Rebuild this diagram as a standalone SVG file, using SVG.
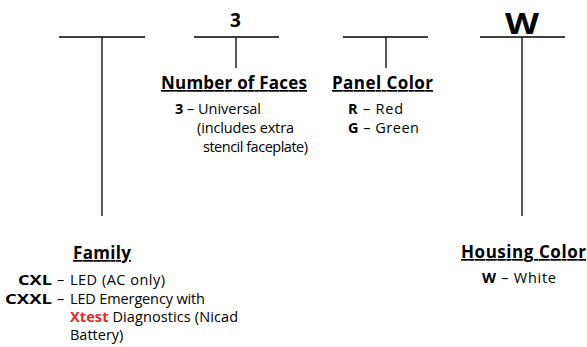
<svg xmlns="http://www.w3.org/2000/svg" width="587" height="347" viewBox="0 0 587 347">
<style>
.ln{stroke:#000;stroke-width:1.3;fill:none}
text{font-family:"Open Sans",Lato,"DejaVu Sans",sans-serif;fill:#000}
.h{font-size:17px;font-weight:bold;text-decoration:underline}
.t{font-size:14.5px}
.b{font-weight:bold}
.red{fill:#e8262b;font-weight:bold}
</style>
<rect width="587" height="347" fill="#fff"/>
<g id="connectors">
<line class="ln" x1="59" y1="37" x2="145" y2="37"/>
<line class="ln" x1="102" y1="37" x2="102" y2="216"/>
<line class="ln" x1="194" y1="37" x2="279" y2="37"/>
<line class="ln" x1="236" y1="37" x2="236" y2="68"/>
<line class="ln" x1="343" y1="37" x2="428" y2="37"/>
<line class="ln" x1="386" y1="37" x2="386" y2="68"/>
<line class="ln" x1="480" y1="37" x2="565" y2="37"/>
<line class="ln" x1="522" y1="37" x2="522" y2="216"/>
</g>
<g id="code-3"><text x="230" y="26.5" font-size="19" font-weight="bold" textLength="13">3</text></g>
<g id="code-W"><text x="505" y="33.5" font-size="28" font-weight="bold" textLength="34" lengthAdjust="spacingAndGlyphs">W</text></g>
<g id="faces">
<text class="h" x="161" y="89" textLength="146">Number of Faces</text>
<text class="t" x="175" y="114" textLength="86"><tspan class="b">3</tspan> – Universal</text>
<text class="t" x="197" y="133" textLength="97">(includes extra</text>
<text class="t" x="203" y="151.5" textLength="105">stencil faceplate)</text>
</g>
<g id="panel">
<text class="h" x="332" y="89" textLength="101">Panel Color</text>
<text class="t" x="348" y="114" textLength="55"><tspan class="b">R</tspan> – Red</text>
<text class="t" x="348" y="133" textLength="71"><tspan class="b">G</tspan> – Green</text>
</g>
<g id="family">
<text class="h" x="73" y="259" textLength="58">Family</text>
<text class="t b" x="18" y="285" textLength="34" lengthAdjust="spacingAndGlyphs">CXL</text>
<text class="t" x="57" y="285">– <tspan x="70" textLength="95">LED (AC only)</tspan></text>
<text class="t b" x="5" y="303.5" textLength="47" lengthAdjust="spacingAndGlyphs">CXXL</text>
<text class="t" x="57" y="303.5">– <tspan x="70" textLength="135">LED Emergency with</tspan></text>
<text class="t" x="70" y="322" textLength="168"><tspan class="red">Xtest</tspan> Diagnostics (Nicad</text>
<text class="t" x="70" y="340">Battery)</text>
</g>
<g id="housing">
<text class="h" x="461" y="258" textLength="125">Housing Color</text>
<text class="t" x="482" y="283" textLength="74"><tspan class="b">W</tspan> – White</text>
</g>
</svg>
